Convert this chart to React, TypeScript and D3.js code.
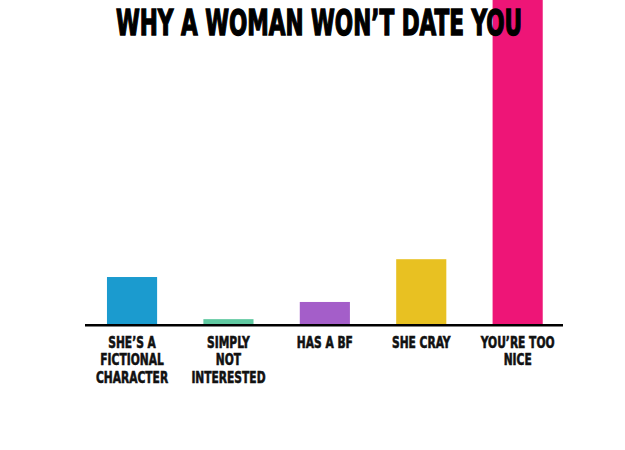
import * as d3 from 'd3'

const categories = ['fictional', 'notInterested', 'hasBf', 'cray', 'tooNice']
const labelLines = [
  ['SHE’S A', 'FICTIONAL', 'CHARACTER'],
  ['SIMPLY', 'NOT', 'INTERESTED'],
  ['HAS A BF'],
  ['SHE CRAY'],
  ['YOU’RE TOO', 'NICE'],
]
const values = [14.5, 1.5, 6.8, 20, 100]
const colors = ['#1b9bcf', '#5fc9a1', '#a45ec9', '#e8c122', '#ee1577']
const title = 'WHY A WOMAN WON’T DATE YOU'

const FONT = '"DejaVu Sans Condensed", "DejaVu Sans", sans-serif'

export default function App() {
  const width = 625
  const height = 450
  const baseline = 324
  const x = d3.scaleBand<string>().domain(categories).range([60.7, 589]).padding(0.48)
  const y = d3.scaleLinear().domain([0, 100]).range([baseline, 0])
  const labelScale = 0.72

  return (
    <>
      <style>{'body{margin:0}'}</style>
      <svg width={width} height={height} viewBox={`0 0 ${width} ${height}`} style={{ display: 'block', background: '#fff' }}>
        {categories.map((cat, i) => (
          <rect
            key={cat}
            x={x(cat)}
            y={y(values[i])}
            width={x.bandwidth()}
            height={baseline - y(values[i])}
            fill={colors[i]}
          />
        ))}

        <line x1={85} x2={563} y1={baseline + 1.2} y2={baseline + 1.2} stroke="#000" strokeWidth={2.6} />

        {categories.map((cat, i) => {
          const cx = (x(cat) ?? 0) + x.bandwidth() / 2
          return (
            <g key={cat} transform={`translate(${cx},0) scale(${labelScale},1)`}>
              {labelLines[i].map((line, j) => (
                <text
                  key={j}
                  x={0}
                  y={348 + j * 17.5}
                  textAnchor="middle"
                  fontFamily={FONT}
                  fontWeight="bold"
                  fontSize={16.5}
                  fill="#111"
                  stroke="#111"
                  strokeWidth={0.6}
                >
                  {line}
                </text>
              ))}
            </g>
          )
        })}

        <text
          x={116}
          y={35}
          textLength={406}
          lengthAdjust="spacingAndGlyphs"
          fontFamily={FONT}
          fontWeight="bold"
          fontSize={36}
          fill="#000"
          stroke="#000"
          strokeWidth={1.4}
        >
          {title}
        </text>
      </svg>
    </>
  )
}
